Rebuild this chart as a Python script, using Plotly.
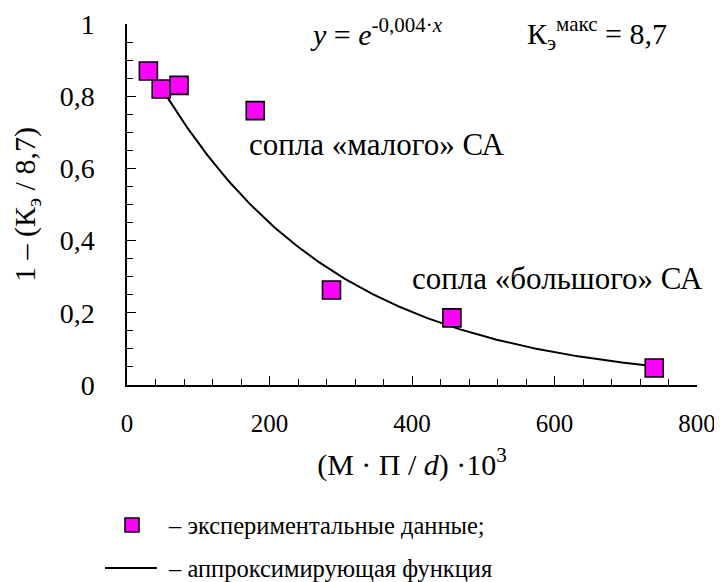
import numpy as np
import plotly.graph_objects as go

# data
x_exp = [30, 48, 73, 180, 287, 456, 740]
y_exp = [0.87, 0.82, 0.83, 0.76, 0.263, 0.186, 0.047]
fit_k = 0.004
x_fit = np.linspace(30, 740, 200)
y_fit = np.exp(-fit_k * x_fit)

FONT = "Liberation Serif, Times New Roman, serif"

# page has an 8px body margin: work in reference pixels minus 8
OFF = 8
W, H = 722 - OFF, 582 - OFF
L = 127 - OFF
T = 24 - OFF
R = W - (697 - OFF)
B = H - (385 - OFF)
PW, PH = W - L - R, H - T - B


def px(xp):
    return (xp - OFF - L) / PW


def py(yp):
    return (H - B - (yp - OFF)) / PH


fig = go.Figure()
fig.add_trace(go.Scatter(
    x=x_fit, y=y_fit, mode="lines",
    line=dict(color="black", width=2),
    name="аппроксимирующая функция", showlegend=False,
))
fig.add_trace(go.Scatter(
    x=x_exp, y=y_exp, mode="markers",
    marker=dict(symbol="square", size=18, color="#FF00FF",
                line=dict(color="black", width=1.6)),
    name="экспериментальные данные", showlegend=False,
))

fig.update_layout(
    width=W, height=H,
    margin=dict(l=L, r=R, t=T, b=B, autoexpand=False),
    plot_bgcolor="white", paper_bgcolor="white",
    font=dict(family=FONT, size=28, color="black"),
    xaxis=dict(range=[0, 800], tickvals=[0, 200, 400, 600, 800],
               ticks="inside", ticklen=9, tickwidth=1.3, tickcolor="black",
               minor=dict(dtick=40, ticks="inside", ticklen=6, tickcolor="black", tickwidth=1),
               showline=True, linecolor="black", linewidth=1.5,
               showgrid=False, zeroline=False, automargin=False,
               tickfont=dict(size=25), ticklabelstandoff=15,
               title=dict(text="(М · П / <i>d</i>) ·10<sup>3</sup>", font=dict(size=30), standoff=18)),
    yaxis=dict(range=[0, 1], tickvals=[0, 0.2, 0.4, 0.6, 0.8, 1],
               ticktext=["0", "0,2", "0,4", "0,6", "0,8", "1"],
               ticks="inside", ticklen=9, tickwidth=1.3, tickcolor="black",
               minor=dict(dtick=0.05, ticks="inside", ticklen=6, tickcolor="black", tickwidth=1),
               showline=True, linecolor="black", linewidth=1.5,
               showgrid=False, zeroline=False, automargin=False,
               tickfont=dict(size=28), ticklabelstandoff=25,
               title=dict(text="1 – (К<sub>э</sub> / 8,7)", font=dict(size=30), standoff=27)),
    showlegend=False,
)

fig.add_annotation(x=254, y=py(32), xref="x", yref="paper", showarrow=False,
                   xanchor="left", yanchor="middle",
                   text="<i>y</i> = <i>e</i><sup>-0,004·<i>x</i></sup>", font=dict(size=30))
fig.add_annotation(x=559, y=py(34), xref="x", yref="paper", showarrow=False,
                   xanchor="left", yanchor="middle",
                   text="К<sub>э</sub><sup>макс</sup> = 8,7", font=dict(size=30))
fig.add_annotation(x=168, y=0.665, xref="x", yref="y", showarrow=False,
                   xanchor="left", yanchor="middle",
                   text="сопла «малого» СА", font=dict(size=31))
fig.add_annotation(x=397, y=0.296, xref="x", yref="y", showarrow=False,
                   xanchor="left", yanchor="middle",
                   text="сопла «большого» СА", font=dict(size=31))

# custom legend (decorations)
fig.add_shape(type="rect", xref="paper", yref="paper",
              x0=px(125), x1=px(139), y0=py(532), y1=py(518),
              fillcolor="#FF00FF", line=dict(color="black", width=1.6))
fig.add_shape(type="line", xref="paper", yref="paper",
              x0=px(105), x1=px(157), y0=py(568), y1=py(568),
              line=dict(color="black", width=2))
fig.add_annotation(x=px(166), y=py(525), xref="paper", yref="paper", showarrow=False,
                   xanchor="left", yanchor="middle",
                   text="– экспериментальные данные;", font=dict(size=24.5))
fig.add_annotation(x=px(166), y=py(568), xref="paper", yref="paper", showarrow=False,
                   xanchor="left", yanchor="middle",
                   text="– аппроксимирующая функция", font=dict(size=24.5))

fig.write_html("out.html")
